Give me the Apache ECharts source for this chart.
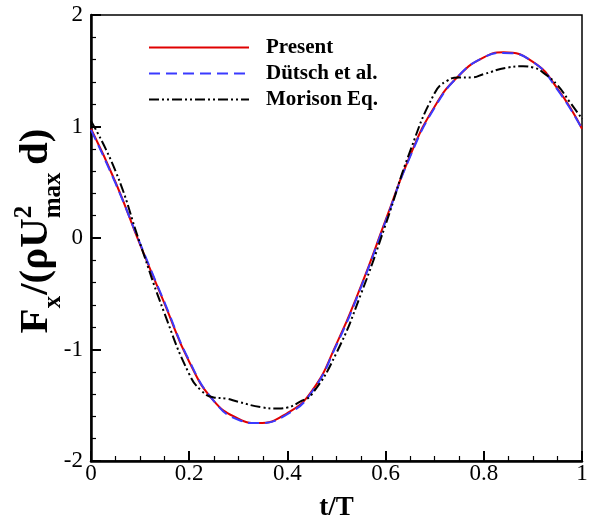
<!DOCTYPE html>
<html>
<head>
<meta charset="utf-8">
<script src="https://cdn.jsdelivr.net/npm/echarts@6/dist/echarts.min.js"></script>
<style>html,body{margin:0;padding:0;background:#fff}#c{width:594px;height:520px}</style>
</head>
<body>
<div id="c"></div>
<script>
// ---- data ----
const seriesNames = ['Present', 'Dütsch et al.', 'Morison Eq.'];
const xTicks = [0, 0.2, 0.4, 0.6, 0.8, 1];
const yTicks = [-2, -1, 0, 1, 2];

const tPresent = [0, 0.05, 0.1, 0.15, 0.2, 0.25, 0.3, 0.34, 0.4, 0.45, 0.5, 0.55, 0.6, 0.65, 0.7, 0.75, 0.8, 0.84, 0.9, 0.95, 1];
const present  = [0.98, 0.50, -0.06, -0.59, -1.11, -1.46, -1.62, -1.66, -1.57, -1.37, -0.95, -0.43, 0.16, 0.74, 1.18, 1.46, 1.62, 1.665, 1.58, 1.34, 0.98];

const tDutsch = [0, 0.05, 0.1, 0.15, 0.2, 0.25, 0.3, 0.34, 0.4, 0.45, 0.5, 0.55, 0.6, 0.65, 0.7, 0.75, 0.8, 0.84, 0.9, 0.95, 1];
const dutsch  = [0.97, 0.49, -0.05, -0.58, -1.10, -1.46, -1.63, -1.66, -1.58, -1.38, -0.96, -0.44, 0.15, 0.73, 1.17, 1.46, 1.62, 1.66, 1.58, 1.33, 0.98];

const tMorison = [0, 0.05, 0.1, 0.15, 0.2, 0.225, 0.25, 0.275, 0.3, 0.35, 0.38, 0.4, 0.425, 0.45, 0.5, 0.55, 0.6, 0.65, 0.7, 0.725, 0.75, 0.775, 0.8, 0.85, 0.88, 0.9, 0.925, 0.95, 0.975, 1];
const morison  = [1.05, 0.60, -0.05, -0.68, -1.22, -1.37, -1.43, -1.44, -1.47, -1.52, -1.53, -1.52, -1.47, -1.40, -1.03, -0.50, 0.12, 0.78, 1.30, 1.41, 1.44, 1.44, 1.47, 1.53, 1.54, 1.53, 1.47, 1.37, 1.22, 1.07];

// ---- chart ----
const serif = '"Liberation Serif","Times New Roman",serif';
const chart = echarts.init(document.getElementById('c'), null, {renderer: 'canvas'});

function pairs(ts, vs) { return ts.map((t, i) => [t, vs[i]]); }

// y-axis title built from pieces (sub/superscripts), rotated
function tw(s, size) {
  const t = new echarts.graphic.Text({style: {text: s, fontSize: size, fontFamily: serif, fontWeight: 'bold'}});
  return t.getBoundingRect().width;
}
function buildTitle(M) {
  const S = Math.round(M * 0.62);
  const pieces = [];
  let cur = 0;
  const add = (text, size, dy) => pieces.push({text, size, x: cur, dy});
  add('F', M, 0); cur += tw('F', M);
  add('x', S, 0.22 * M); cur += tw('x', S) + 1;
  add('/(ρU', M, 0); cur += tw('/(ρU', M);
  add('2', S, -0.48 * M);
  add('max', S, 0.22 * M); cur += tw('max', S) + 0.18 * M;
  add('d)', M, 0); cur += tw('d)', M);
  return {pieces, L: cur};
}
const title = buildTitle(41);
const titleChildren = title.pieces.map(p => ({
  type: 'text', x: p.x - title.L / 2, y: p.dy,
  style: {text: p.text, fill: '#000', fontSize: p.size, fontFamily: serif, fontWeight: 'bold', align: 'left', verticalAlign: 'bottom'}
}));

const option = {
  animation: false,
  backgroundColor: '#fff',
  grid: {left: 91, right: 12, top: 15, bottom: 59, outerBoundsMode: 'none', containLabel: false,
         show: true, borderColor: '#000', borderWidth: 1.5, backgroundColor: 'transparent'},
  legend: {
    orient: 'vertical', left: 143, top: 32,
    itemWidth: 100, itemHeight: 14, itemGap: 5,
    itemStyle: {color: 'rgba(0,0,0,0)', borderWidth: 0, opacity: 0},
    textStyle: {fontFamily: serif, fontWeight: 'bold', fontSize: 21, color: '#000', padding: [0, 0, 0, 12]},
    data: seriesNames
  },
  xAxis: {
    type: 'value', min: xTicks[0], max: xTicks[xTicks.length - 1], interval: 0.2,
    name: 't/T', nameLocation: 'middle', nameGap: 34,
    nameTextStyle: {fontFamily: serif, fontWeight: 'bold', fontSize: 27, color: '#000'},
    axisLine: {show: true, onZero: false, lineStyle: {color: '#000', width: 2.5}},
    axisTick: {show: true, inside: true, length: 10, lineStyle: {color: '#000', width: 2}},
    minorTick: {show: true, splitNumber: 4, length: 5, lineStyle: {color: '#000', width: 1.2}},
    axisLabel: {fontFamily: serif, fontSize: 23, color: '#000', margin: 1},
    splitLine: {show: false}
  },
  yAxis: {
    type: 'value', min: yTicks[0], max: yTicks[yTicks.length - 1], interval: 1,
    axisLine: {show: true, onZero: false, lineStyle: {color: '#000', width: 2.5}},
    axisTick: {show: true, inside: true, length: 10, lineStyle: {color: '#000', width: 2}},
    minorTick: {show: true, splitNumber: 5, length: 5, lineStyle: {color: '#000', width: 1.2}},
    axisLabel: {fontFamily: serif, fontSize: 23, color: '#000', margin: 8},
    splitLine: {show: false}
  },
  graphic: [{
    type: 'group', x: 57, y: 231, rotation: Math.PI / 2,
    children: titleChildren
  }],
  series: [
    {name: seriesNames[0], type: 'line', data: pairs(tPresent, present), smooth: true, symbol: 'none',
     lineStyle: {color: '#e00000', width: 2}, itemStyle: {color: '#e00000'}},
    {name: seriesNames[1], type: 'line', data: pairs(tDutsch, dutsch), smooth: true, symbol: 'none',
     lineStyle: {color: '#3a3aff', width: 2, type: [11, 6]}, itemStyle: {color: '#3a3aff'}},
    {name: seriesNames[2], type: 'line', data: pairs(tMorison, morison), smooth: true, symbol: 'none',
     lineStyle: {color: '#000', width: 2, type: [10, 3, 2, 3, 2, 3]}, itemStyle: {color: '#000'}}
  ]
};
chart.setOption(option);
</script>
</body>
</html>
